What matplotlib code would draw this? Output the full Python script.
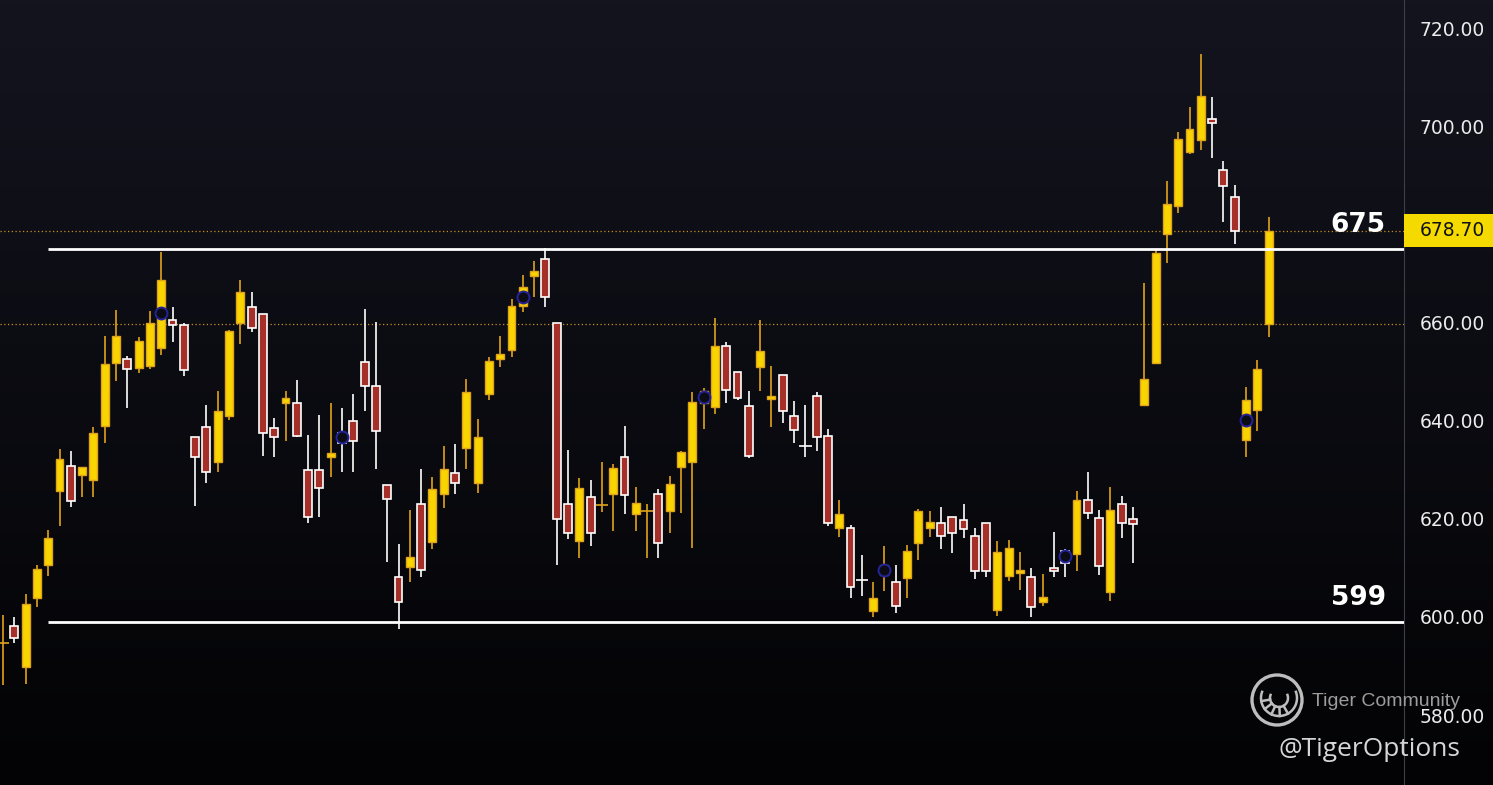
import numpy as np
import matplotlib
matplotlib.use("Agg")
import matplotlib.pyplot as plt
from matplotlib.patches import Rectangle, Circle, Arc
import matplotlib.transforms as mtransforms

# ---------------- data ----------------
opens = [594.6, 598.2, 589.9, 603.8, 610.5, 625.7, 630.7, 629.0, 628.0, 639.0,
         651.8, 652.6, 650.8, 651.2, 654.9, 660.5, 659.5, 636.6, 638.7, 631.5,
         641.0, 659.8, 663.1, 661.7, 638.6, 643.5, 643.5, 630.0, 630.0, 632.5,
         637.5, 639.9, 651.9, 647.1, 626.8, 608.2, 610.1, 623.0, 615.3, 625.0,
         629.3, 634.5, 627.2, 645.4, 652.5, 654.5, 663.3, 669.5, 672.9, 659.8,
         623.0, 615.4, 624.4, 622.8, 625.0, 632.5, 620.9, 621.5, 625.0, 621.5,
         630.5, 631.6, 643.5, 642.8, 655.2, 649.9, 642.9, 651.0, 644.4, 649.4,
         640.9, 634.9, 645.0, 636.8, 618.2, 618.1, 607.6, 601.3, 608.5, 607.1,
         608.0, 615.0, 618.1, 619.1, 620.3, 619.7, 616.6, 619.1, 601.4, 608.3,
         608.9, 608.1, 603.0, 609.9, 613.5, 612.9, 623.8, 620.1, 605.0, 623.0,
         619.9, 643.1, 651.7, 678.0, 683.7, 694.8, 697.1, 701.4, 691.0, 685.5,
         636.1, 642.2, 659.6]
highs = [600.4, 600.1, 604.7, 610.6, 617.7, 634.2, 633.8, 630.5, 638.7, 657.3,
         662.5, 653.2, 657.0, 662.3, 674.4, 663.2, 659.8, 636.6, 643.2, 646.0,
         658.5, 668.7, 666.2, 661.7, 640.5, 646.0, 648.3, 637.1, 641.2, 643.7,
         642.5, 645.4, 662.8, 660.1, 626.8, 614.9, 621.9, 630.2, 628.5, 634.8,
         635.2, 648.5, 640.3, 653.0, 657.3, 664.8, 669.7, 672.5, 675.2, 659.8,
         634.0, 628.3, 627.9, 631.5, 631.1, 638.9, 626.5, 623.0, 626.1, 628.7,
         633.9, 645.8, 646.6, 660.9, 656.0, 649.9, 646.0, 660.5, 651.1, 649.4,
         644.0, 643.2, 645.8, 638.4, 623.8, 618.7, 612.6, 607.1, 614.5, 610.5,
         614.7, 622.0, 621.6, 622.4, 620.3, 623.0, 618.1, 619.1, 615.4, 615.6,
         613.2, 609.9, 608.7, 617.3, 613.8, 625.7, 629.5, 621.7, 626.4, 624.6,
         622.4, 668.0, 674.9, 688.9, 698.9, 703.9, 714.7, 705.9, 692.9, 688.0,
         646.9, 652.4, 681.4]
lows = [586.1, 594.8, 586.3, 602.1, 608.4, 618.6, 622.5, 624.5, 624.5, 635.4,
        648.1, 642.6, 649.8, 650.5, 653.4, 656.1, 649.2, 622.7, 627.4, 629.6,
        640.1, 655.6, 658.1, 632.9, 632.5, 635.9, 636.7, 619.2, 620.4, 628.6,
        629.6, 629.6, 642.0, 630.2, 611.3, 597.5, 607.2, 608.2, 613.9, 622.3,
        625.0, 630.1, 625.2, 644.2, 651.0, 652.9, 662.1, 665.1, 663.2, 610.5,
        615.8, 612.0, 614.5, 621.3, 617.6, 621.0, 617.6, 612.1, 612.0, 617.2,
        621.1, 614.1, 638.3, 641.4, 643.5, 644.3, 632.3, 646.1, 638.8, 639.6,
        635.5, 632.5, 633.9, 618.5, 616.4, 603.9, 604.3, 600.1, 605.2, 600.9,
        603.9, 611.7, 616.2, 613.9, 613.0, 616.0, 607.7, 608.1, 600.3, 607.3,
        605.4, 599.9, 602.2, 608.1, 608.1, 609.4, 620.0, 608.6, 603.2, 616.0,
        610.9, 642.9, 651.7, 672.2, 682.4, 694.4, 695.1, 693.5, 680.4, 675.9,
        632.5, 637.8, 657.0]
closes = [594.6, 595.7, 602.6, 609.7, 616.0, 632.1, 623.7, 630.5, 637.4, 651.5,
          657.2, 650.6, 656.2, 659.8, 668.7, 659.4, 650.4, 632.7, 629.5, 641.9,
          658.2, 666.2, 658.8, 637.4, 636.6, 644.6, 636.9, 620.3, 626.2, 633.4,
          635.5, 635.8, 647.1, 637.8, 624.0, 603.0, 612.3, 609.6, 626.0, 630.1,
          627.4, 645.8, 636.6, 652.1, 653.5, 663.3, 667.2, 670.5, 665.1, 619.9,
          617.1, 626.2, 617.1, 622.8, 630.3, 624.8, 623.2, 621.5, 615.0, 627.0,
          633.6, 643.9, 646.0, 655.2, 646.2, 644.7, 632.9, 654.1, 645.0, 641.9,
          638.2, 634.8, 636.7, 619.1, 620.9, 606.2, 607.5, 603.8, 610.5, 602.3,
          613.4, 621.5, 619.3, 616.6, 617.1, 617.9, 609.3, 609.3, 613.2, 614.0,
          609.5, 602.0, 604.0, 609.3, 611.0, 623.8, 621.1, 610.3, 621.7, 619.1,
          618.9, 648.4, 674.1, 684.1, 697.3, 699.4, 706.1, 700.6, 687.8, 678.7,
          644.2, 650.5, 678.7]

marker_idx = [14, 30, 46, 62, 78, 94, 110]
marker_price = [661.9, 636.7, 665.1, 644.9, 609.6, 612.4, 640.1]

levels = [675, 599]
level_labels = ["675", "599"]
level_start_idx = 4

yticks = [580, 600, 620, 640, 660, 700, 720]
last_price_label = "678.70"

# ---------------- style ----------------
W, H = 1493, 785
BULL_FACE = "#F8D400"
BULL_EDGE = "#E0A31C"
BEAR_FACE = "#A5302A"
BEAR_EDGE = "#FFFFFF"

fig = plt.figure(figsize=(W / 100, H / 100), dpi=100)
fig.patch.set_facecolor("#0a0a0f")

# background gradient
bg = fig.add_axes([0, 0, 1, 1], zorder=0)
grad = np.linspace(0, 1, 256).reshape(-1, 1)
top = np.array([19, 20, 30]) / 255.0
bot = np.array([3, 3, 5]) / 255.0
img = top[None, None, :] * (1 - grad[:, :, None]) + bot[None, None, :] * grad[:, :, None]
bg.imshow(img, aspect="auto", extent=[0, 1, 0, 1])
bg.axis("off")

plot_w = 1404 / W
ax = fig.add_axes([0, 0, plot_w, 1], zorder=1)
ax.patch.set_alpha(0)

n = len(opens)
x = np.arange(n)
o = np.array(opens); h = np.array(highs); l = np.array(lows); c = np.array(closes)
bull = c >= o

spacing_px = 11.3
x0 = -3 / spacing_px
ax.set_xlim(x0, x0 + 1404 / spacing_px)
ax.set_ylim(565.77, 725.71)

bw = 0.70
# wicks
ax.vlines(x[bull], l[bull], h[bull], color=BULL_EDGE, lw=1.2, zorder=2)
ax.vlines(x[~bull], l[~bull], h[~bull], color=BEAR_EDGE, lw=1.2, zorder=2)
# bodies
body_bottom = np.minimum(o, c)
body_h = np.abs(c - o)
doji = body_h < 0.2
nb = bull & ~doji
nr = (~bull) & ~doji
ax.bar(x[nb], body_h[nb], bottom=body_bottom[nb], width=bw, color=BULL_FACE,
       edgecolor=BULL_EDGE, linewidth=1.0, zorder=3)
ax.bar(x[nr], body_h[nr], bottom=body_bottom[nr], width=bw, color=BEAR_FACE,
       edgecolor=BEAR_EDGE, linewidth=1.2, zorder=3)
# doji ticks
for i in np.where(doji)[0]:
    col = BULL_EDGE if bull[i] else BEAR_EDGE
    ax.hlines(c[i], i - bw / 2 - 0.2, i + bw / 2 + 0.2, color=col, lw=1.2, zorder=3)

# markers
ax.plot(marker_idx, marker_price, "o", ms=8.6, mfc="#0c0d14", mec="#23239a",
        mew=1.4, zorder=4, ls="none")

# dotted reference lines (last close and last open)
ax.axhline(closes[-1], color="#c98f1f", lw=0.9, ls=(0, (1, 2)), zorder=1.5)
ax.axhline(opens[-1], color="#c98f1f", lw=0.9, ls=(0, (1, 2)), zorder=1.5)

# support / resistance levels
xmax = ax.get_xlim()[1]
for lv, lab in zip(levels, level_labels):
    ax.hlines(lv, level_start_idx, xmax, color="white", lw=2.0, zorder=5)
    ax.annotate(lab, xy=(1.0, lv), xycoords=ax.get_yaxis_transform(),
                xytext=(-13, 8), textcoords="offset points",
                ha="right", va="bottom", color="white", fontsize=19,
                fontweight="bold", zorder=6)

# axes styling
for s in ax.spines.values():
    s.set_visible(False)
ax.spines["right"].set_visible(True)
ax.spines["right"].set_color("#3c3e48")
ax.spines["right"].set_linewidth(0.8)
ax.set_xticks([])
ax.yaxis.tick_right()
ax.set_yticks(yticks)
ax.set_yticklabels([f"{t:.2f}" for t in yticks])
ax.tick_params(axis="y", length=0, pad=11, colors="#ececec", labelsize=13.5)

# last price tag
blend = mtransforms.blended_transform_factory(ax.transAxes, ax.transData)
tag_h = 33 / (H / (725.71 - 565.77))
ax.add_patch(Rectangle((1.0, closes[-1] - tag_h / 2), (W - 1404) / 1404, tag_h,
                       transform=blend, clip_on=False, facecolor="#F5DA00",
                       edgecolor="none", zorder=7))
ax.text(1.0 + 16 / 1404, closes[-1], last_price_label, transform=blend,
        ha="left", va="center", color="#111111", fontsize=13.5, zorder=8)

# watermark (pixel overlay, y grows downward)
ov = fig.add_axes([0, 0, 1, 1], zorder=10)
ov.set_xlim(0, W); ov.set_ylim(H, 0); ov.axis("off"); ov.patch.set_alpha(0)
cx, cy = 1277, 700
ov.add_patch(Circle((cx, cy), 25, fill=False, ec="#bdbdbd", lw=2.4))
# inner band in the lower-left (screen), drawn with explicit points
t = np.deg2rad(np.linspace(-20, 200, 60))
for r in (18, 9):
    ov.plot(cx + 2 + r * np.cos(t), cy - 2 + r * np.sin(t), color="#bdbdbd", lw=1.8)
for ang in np.linspace(60, 170, 5):
    a = np.deg2rad(ang)
    ov.plot([cx + 2 + 9 * np.cos(a), cx + 2 + 18 * np.cos(a)],
            [cy - 2 + 9 * np.sin(a), cy - 2 + 18 * np.sin(a)],
            color="#bdbdbd", lw=1.8)
ov.text(1312, 702, "Tiger Community", color="#9c9c9c", fontsize=14,
        family="Liberation Sans", ha="left", va="center")
ov.text(1278, 750, "@TigerOptions", color="#d6d6d6", fontsize=19,
        family="Open Sans", ha="left", va="center")

fig.savefig("out.png", dpi=100, facecolor=fig.get_facecolor())
